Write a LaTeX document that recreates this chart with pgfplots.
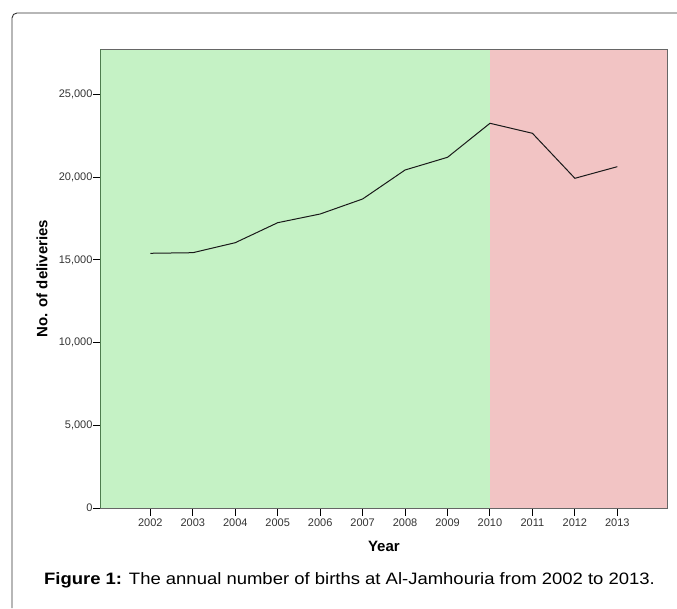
\documentclass[border=0pt]{standalone}
\usepackage{fontspec}
\setmainfont{Liberation Sans}
\usepackage{pgfplots}
\pgfplotsset{compat=1.18}
\definecolor{bggreen}{HTML}{C5F2C5}
\definecolor{bgred}{HTML}{F2C4C4}
\definecolor{spinegreen}{HTML}{4E7D4E}
\begin{document}
\begin{tikzpicture}[x=1pt,y=1pt]
\useasboundingbox (0,0) rectangle (677,608);
\draw[line width=0.9pt, color=black!80, rounded corners=5pt] (12,0) -- (12,595) -- (677,595);
\begin{axis}[
  at={(100.7pt,100pt)}, anchor=south west,
  scale only axis, width=566.3pt, height=459pt,
  xmin=2000.83, xmax=2014.17, ymin=0, ymax=27750,
  xtick={2002,2003,2004,2005,2006,2007,2008,2009,2010,2011,2012,2013},
  ytick={0,5000,10000,15000,20000,25000},
  /pgf/number format/assume math mode=true,
  x tick label style={/pgf/number format/1000 sep={}},
  y tick label style={/pgf/number format/1000 sep={,}, inner xsep=0.6pt},
  scaled y ticks=false,
  tick label style={font=\fontsize{11}{13}\selectfont, color=black!80},
  tick align=outside, major tick length=7.5pt,
  tick style={black, line width=1pt},
  xtick pos=bottom, ytick pos=left,
  axis line style={draw=black!60, line width=0.8pt},
  xlabel={Year}, ylabel={No. of deliveries},
  label style={font=\fontsize{15}{18}\selectfont\bfseries},
  xlabel style={at={(axis description cs:0.5,-0.0828)}, anchor=center},
  ylabel style={at={(axis description cs:-0.1037,0.5)}, anchor=center},
  axis on top,
  after end axis/.code={\draw[spinegreen, line width=1pt] (rel axis cs:0,0) -- (rel axis cs:0,1);},
]
\addplot[draw=none, fill=bggreen] coordinates {(2000.83,27750) (2010,27750)} \closedcycle;
\addplot[draw=none, fill=bgred] coordinates {(2010,27750) (2014.17,27750)} \closedcycle;
\addplot[black!90, line width=1pt, mark=none] coordinates {
(2002,15399) (2003,15435) (2004,16040) (2005,17249) (2006,17775) (2007,18682)
(2008,20435) (2009,21203) (2010,23259) (2011,22654) (2012,19933) (2013,20635)};
\end{axis}
\node[anchor=base, inner sep=0pt] at (349.5, 24) {\scalebox{1.12}[1]{\fontsize{16.5}{20}\selectfont\textbf{Figure 1:} The annual number of births at Al-Jamhouria from 2002 to 2013.}};
\end{tikzpicture}
\end{document}
